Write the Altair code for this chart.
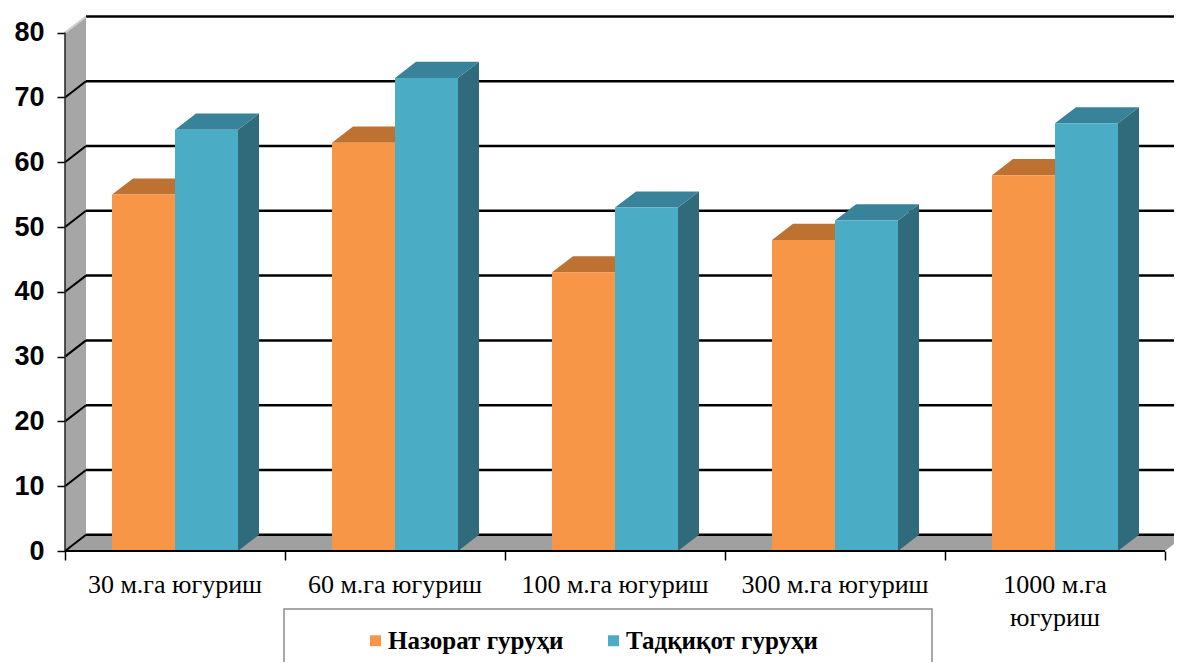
import altair as alt
import pandas as pd

# ---------------- data ----------------
categories = ["30 м.га югуриш", "60 м.га югуриш", "100 м.га югуриш",
              "300 м.га югуриш", "1000 м.га|югуриш"]
series = ["Назорат гуруҳи", "Тадқиқот гуруҳи"]
control = [55, 63, 43, 48, 58]
research = [65, 73, 53, 51, 66]
y_ticks = [0, 10, 20, 30, 40, 50, 60, 70, 80]

# ---------------- geometry / style ----------------
SLOT = 220          # width of one category slot (x units = px)
BAR = 63            # bar width
DX = 21             # 3D depth offset in x
DY = 2.5            # 3D depth offset in y (value units)
W = 1109
H = 543
Y_MAX = 83.8
X_END = SLOT * len(categories) + DX
LABEL_Y = -3.2

front_colors = ["#F79646", "#4BACC6"]
top_colors = ["#BD7232", "#38839A"]
side_colors = ["#9A5A24", "#2F6B7B"]

xs = alt.Scale(domain=[0, W], nice=False, zero=False)
ys = alt.Scale(domain=[0, Y_MAX], nice=False, zero=False)

X_AXIS = alt.Axis(values=[SLOT * k for k in range(len(categories) + 1)],
                  labels=False, domain=False, grid=False, ticks=True,
                  tickSize=9, tickColor="black", tickWidth=1.5, title=None)
Y_AXIS = alt.Axis(values=y_ticks, labelFont="Liberation Sans", labelFontWeight="bold",
                  labelFontSize=27, labelColor="black", tickSize=8, tickColor="black",
                  tickWidth=1.5, domain=False, grid=False, labelPadding=13, title=None)

values = [control, research]
front_rows, top_rows, side_rows = [], [], []
for i, cat in enumerate(categories):
    center = SLOT * i + SLOT / 2
    for s, name in enumerate(series):
        v = values[s][i]
        x0 = center - BAR + s * BAR
        x1 = x0 + BAR
        bid = f"{i}-{s}"
        front_rows.append(dict(id=bid, series=name, x0=x0, x1=x1, y0=0, y1=v))
        top_rows += [dict(id=bid, series=name, y=v, xa=x0, xb=x1),
                     dict(id=bid, series=name, y=v + DY, xa=x0 + DX, xb=x1 + DX)]
        side_rows += [dict(id=bid, series=name, x=x1, ya=0, yb=v),
                      dict(id=bid, series=name, x=x1 + DX, ya=DY, yb=v + DY)]
fronts = pd.DataFrame(front_rows)
tops = pd.DataFrame(top_rows)
sides = pd.DataFrame(side_rows)

wall = pd.DataFrame([dict(x=0, ya=0, yb=y_ticks[-1]),
                     dict(x=DX, ya=DY, yb=y_ticks[-1] + DY)])
floor = pd.DataFrame([dict(y=0, xa=0, xb=SLOT * len(categories)),
                      dict(y=DY, xa=DX, xb=SLOT * len(categories) + DX)])
grid = pd.DataFrame([dict(v=t, vb=t + DY, xa=DX, xb=X_END, x0=0,
                          col="#000000" if t < y_ticks[-1] else "#d0d0d0") for t in y_ticks])
labels = pd.DataFrame([dict(x=SLOT * i + SLOT / 2, y=LABEL_Y, label=c)
                       for i, c in enumerate(categories)])
box = pd.DataFrame([dict(xa=SLOT * 2.5 - 331, xb=SLOT * 2.5 + 317, ya=-8.95, yb=-25)])
axis_line = pd.DataFrame([dict(xa=0, xb=SLOT * len(categories), y=0)])
wall_edge = pd.DataFrame([dict(x=0, ya=0, yb=y_ticks[-1])])


def X(field):
    return alt.X(field, scale=xs, axis=X_AXIS)


def Y(field):
    return alt.Y(field, scale=ys, axis=Y_AXIS)


# ---------------- layers ----------------
wall_layer = alt.Chart(wall).mark_area(color="#A6A6A6", orient="vertical").encode(
    x=X("x:Q"), y=Y("ya:Q"), y2="yb:Q",
)

floor_layer = alt.Chart(floor).mark_area(color="#A0A0A0", orient="horizontal").encode(
    y=Y("y:Q"), x=X("xa:Q"), x2="xb:Q",
)

grid_layer = alt.Chart(grid).mark_rule(color="black", strokeWidth=2.5).encode(
    x=X("xa:Q"), x2="xb:Q", y=Y("vb:Q"),
)

diag_layer = alt.Chart(grid).mark_rule(strokeWidth=2).encode(
    x=X("x0:Q"), x2="xa:Q", y=Y("v:Q"), y2="vb:Q",
    color=alt.Color("col:N", scale=None, legend=None),
)

wall_edge_layer = alt.Chart(wall_edge).mark_rule(color="#202020", strokeWidth=1.5).encode(
    x=X("x:Q"), y=Y("ya:Q"), y2="yb:Q",
)

axis_layer = alt.Chart(axis_line).mark_rule(color="black", strokeWidth=2).encode(
    x=X("xa:Q"), x2="xb:Q", y=Y("y:Q"),
)

side_layer = alt.Chart(sides).mark_area(orient="vertical").encode(
    x=X("x:Q"), y=Y("ya:Q"), y2="yb:Q",
    detail="id:N",
    color=alt.Color("series:N", scale=alt.Scale(domain=series, range=side_colors), legend=None),
)

top_layer = alt.Chart(tops).mark_area(orient="horizontal").encode(
    y=Y("y:Q"), x=X("xa:Q"), x2="xb:Q",
    detail="id:N",
    color=alt.Color("series:N", scale=alt.Scale(domain=series, range=top_colors), legend=None),
)

front_layer = alt.Chart(fronts).mark_rect().encode(
    x=X("x0:Q"), x2="x1:Q", y=Y("y0:Q"), y2="y1:Q",
    color=alt.Color("series:N", scale=alt.Scale(domain=series, range=front_colors),
                    legend=alt.Legend(orient="none", legendX=298, legendY=620,
                                      direction="horizontal", title=None,
                                      symbolType="square", symbolSize=120,
                                      symbolStrokeWidth=0, labelFont="Liberation Serif",
                                      labelFontSize=25, labelFontWeight="bold",
                                      labelColor="black", columnPadding=37,
                                      labelOffset=0, labelLimit=500, padding=0)),
)

label_layer = alt.Chart(labels).mark_text(
    font="Liberation Serif", fontSize=26, color="black", baseline="top",
    align="center", lineBreak="|", lineHeight=33,
).encode(
    x=X("x:Q"), y=Y("y:Q"), text="label:N",
)

box_layer = alt.Chart(box).mark_rect(fill="white", stroke="#8c8c8c", strokeWidth=1.5).encode(
    x=X("xa:Q"), x2="xb:Q", y=Y("ya:Q"), y2="yb:Q",
)

chart = alt.layer(
    wall_layer, floor_layer, grid_layer, diag_layer, wall_edge_layer,
    side_layer, top_layer, front_layer, axis_layer, label_layer, box_layer,
).resolve_scale(color="independent").properties(
    width=W, height=H,
    autosize=alt.AutoSizeParams(type="none"),
    padding={"left": 57, "top": 0, "right": 0, "bottom": 111},
    background="white",
).configure_view(stroke=None)

chart.save("out.html", embed_options={"renderer": "svg", "actions": False})
